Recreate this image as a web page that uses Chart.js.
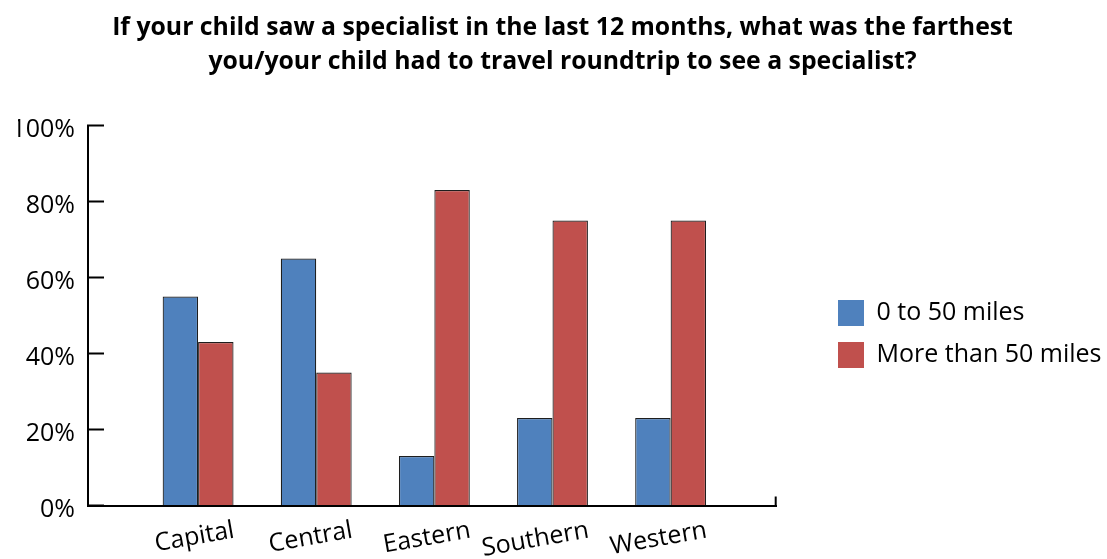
<!DOCTYPE html>
<html>
<head>
<meta charset="utf-8">
<script src="https://cdn.jsdelivr.net/npm/chart.js@4.4.1/dist/chart.umd.min.js"></script>
<style>
  html, body { margin: 0; padding: 0; background: #ffffff; }
  #wrap { width: 1107px; height: 559px; position: relative; }
</style>
</head>
<body>
<div id="wrap"><canvas id="chart"></canvas></div>
<script>
// Regions and the share of children in each distance band
const categories = ['Capital', 'Central', 'Eastern', 'Southern', 'Western'];
const seriesNames = ['0 to 50 miles', 'More than 50 miles'];
const nearValues = [55, 65, 13, 23, 23];
const farValues = [43, 35, 83, 75, 75];
const yTickValues = [0, 20, 40, 60, 80, 100];
const titleLines = [
  'If your child saw a specialist in the last 12 months, what was the farthest',
  'you/your child had to travel roundtrip to see a specialist?'
];

const FONT = '"Open Sans", Lato, "DejaVu Sans", sans-serif';
const BLUE = '#4F81BD';
const RED = '#C0504D';
const EDGE = '#1e1e1e';

// layout tuning
const LEGEND_WIDTH = 330.3;   // space reserved right of the plot
const LEGEND_SHIFT_X = 45.3;  // gap between plot edge and legend block
const LEGEND_SHIFT_Y = 54.5;  // legend sits a little below the middle

const frameExtras = {
  id: 'frameExtras',
  beforeInit(chart) {
    const legend = chart.legend;
    const baseFit = legend.fit;
    legend.fit = function () {
      baseFit.call(this);
      this.width = LEGEND_WIDTH;
    };
  },
  afterLayout(chart) {
    const lg = chart.legend;
    const dx = chart.chartArea.right + LEGEND_SHIFT_X - lg.left;
    lg.left += dx; lg.right += dx;
    lg.top += LEGEND_SHIFT_Y; lg.bottom += LEGEND_SHIFT_Y;
  },
  afterDraw(chart) {
    // short upright mark closing the category axis on the right
    const xs = chart.scales.x;
    const ctx = chart.ctx;
    ctx.save();
    ctx.strokeStyle = '#000';
    ctx.lineWidth = 2;
    ctx.beginPath();
    ctx.moveTo(xs.right - 1, xs.top);
    ctx.lineTo(xs.right - 1, xs.top - 9);
    ctx.stroke();
    ctx.restore();
  }
};

new Chart(document.getElementById('chart'), {
  type: 'bar',
  data: {
    datasets: [
      {
        label: seriesNames[0],
        data: nearValues.map((v, i) => ({ x: i, y: v })),
        backgroundColor: BLUE,
        borderColor: EDGE,
        borderWidth: 1.2
      },
      {
        label: seriesNames[1],
        data: farValues.map((v, i) => ({ x: i, y: v })),
        backgroundColor: RED,
        borderColor: EDGE,
        borderWidth: 1.2
      }
    ]
  },
  options: {
    responsive: true,
    maintainAspectRatio: false,
    animation: false,
    categoryPercentage: 0.6,
    barPercentage: 1.0,
    layout: { padding: { left: 18, right: 0, top: 0, bottom: 0 } },
    scales: {
      x: {
        type: 'linear',
        offset: false,
        min: -0.932,
        max: 4.898,
        afterBuildTicks: s => { s.ticks = categories.map((_, i) => ({ value: i })); },
        afterFit: s => { s.height = 53.5; },
        grid: { display: false, drawTicks: false, offset: false },
        border: { display: true, color: '#000', width: 2 },
        ticks: {
          autoSkip: false,
          minRotation: 10,
          maxRotation: 10,
          labelOffset: 36,
          padding: 10,
          color: '#000',
          font: { family: FONT, size: 25 },
          callback: v => categories[v]
        }
      },
      y: {
        min: 0,
        max: 100,
        afterBuildTicks: s => { s.ticks = yTickValues.map(v => ({ value: v })); },
        afterFit: s => { s.width = 70; },
        grid: {
          display: true,
          drawOnChartArea: false,
          drawTicks: true,
          tickLength: -16,
          tickWidth: 2,
          tickColor: '#000'
        },
        border: { display: true, color: '#000', width: 2 },
        ticks: {
          padding: 29,
          labelOffset: 4,
          color: '#000',
          font: { family: FONT, size: 25 },
          callback: v => v + '%'
        }
      }
    },
    plugins: {
      title: {
        display: true,
        text: titleLines,
        color: '#000',
        font: { family: FONT, size: 24.8, weight: 'bold', lineHeight: 34 / 24.8 },
        padding: { top: 11, bottom: 46.5 }
      },
      legend: {
        display: true,
        position: 'right',
        labels: {
          color: '#000',
          font: { family: FONT, size: 25 },
          boxWidth: 26,
          boxHeight: 26,
          padding: 16,
          generateLabels: chart =>
            Chart.defaults.plugins.legend.labels.generateLabels(chart)
              .map(item => Object.assign(item, { lineWidth: 0, strokeStyle: item.fillStyle }))
        }
      },
      tooltip: { enabled: false }
    }
  },
  plugins: [frameExtras]
});
</script>
</body>
</html>
